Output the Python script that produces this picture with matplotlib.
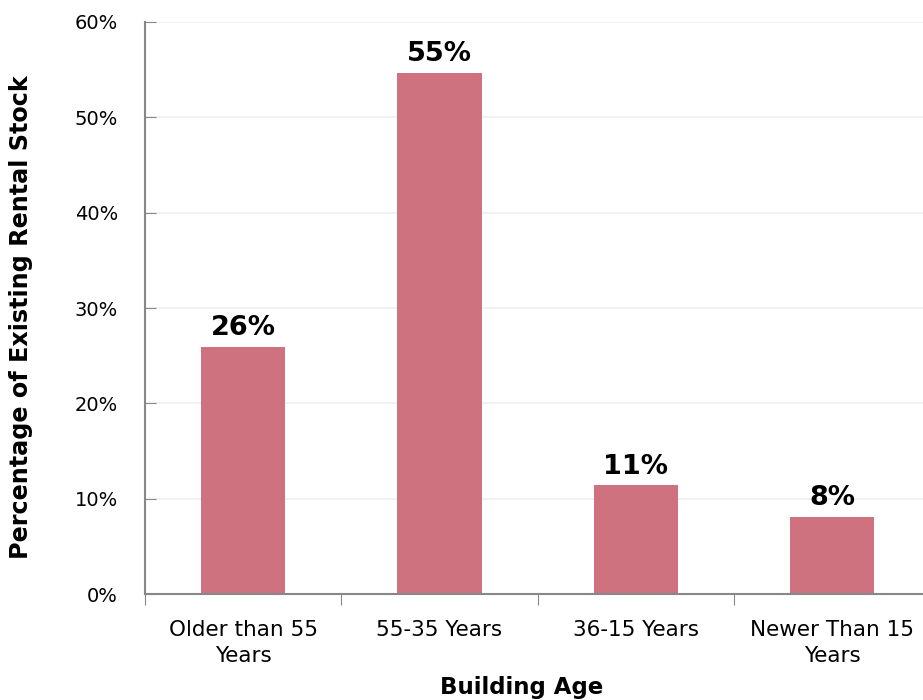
import numpy as np
import matplotlib.pyplot as plt
from matplotlib.ticker import FuncFormatter

categories = ['Older than 55\nYears', '55-35 Years', '36-15 Years', 'Newer Than 15\nYears']
shares = [25.9, 54.7, 11.4, 8.1]
bar_labels = ['26%', '55%', '11%', '8%']

plt.rcParams['font.family'] = ['DejaVu Sans']

fig = plt.figure(figsize=(9.23, 7), dpi=100)
# plot area runs past the right edge of the figure, like the source
ax = fig.add_axes([0.157, 0.1514, 0.851, 0.8172])

x = np.arange(len(categories))
ax.bar(x, shares, width=0.43, color='#CF7280', zorder=2)

for xi, v, lab in zip(x, shares, bar_labels):
    ax.text(xi, v + 0.6, lab, ha='center', va='bottom', fontsize=19.5, fontweight='bold')

ax.set_xlim(-0.5, len(categories) - 0.5)
ax.set_ylim(0, 60)
ax.set_yticks(np.arange(0, 61, 10))
ax.yaxis.set_major_formatter(FuncFormatter(lambda v, p: f'{v:.0f}%'))
ax.yaxis.grid(True, color='#EFEFEF', linewidth=1.2, zorder=0)
ax.tick_params(axis='y', direction='in', length=8, color='#888888', labelsize=14, pad=19.5)

# ticks at category boundaries, labels at centres
ax.set_xticks(np.arange(-0.5, len(categories) - 0.5, 1.0))
ax.set_xticklabels([])
ax.tick_params(axis='x', which='major', direction='out', length=8, color='#888888')
ax.set_xticks(x, minor=True)
ax.set_xticklabels(categories, minor=True, fontsize=15.5, linespacing=1.35)
ax.tick_params(axis='x', which='minor', length=0, pad=19)

for s in ['top', 'right']:
    ax.spines[s].set_visible(False)
for s in ['left', 'bottom']:
    ax.spines[s].set_color('#888888')
    ax.spines[s].set_linewidth(1.5)

ax.set_xlabel('Building Age', fontsize=16.5, fontweight='bold')
ax.xaxis.set_label_coords(0.48, -0.143)
ax.set_ylabel('Percentage of Existing Rental Stock', fontsize=17.2, fontweight='bold')
ax.yaxis.set_label_coords(-0.143, 0.484)

fig.savefig('out.png', dpi=100)
